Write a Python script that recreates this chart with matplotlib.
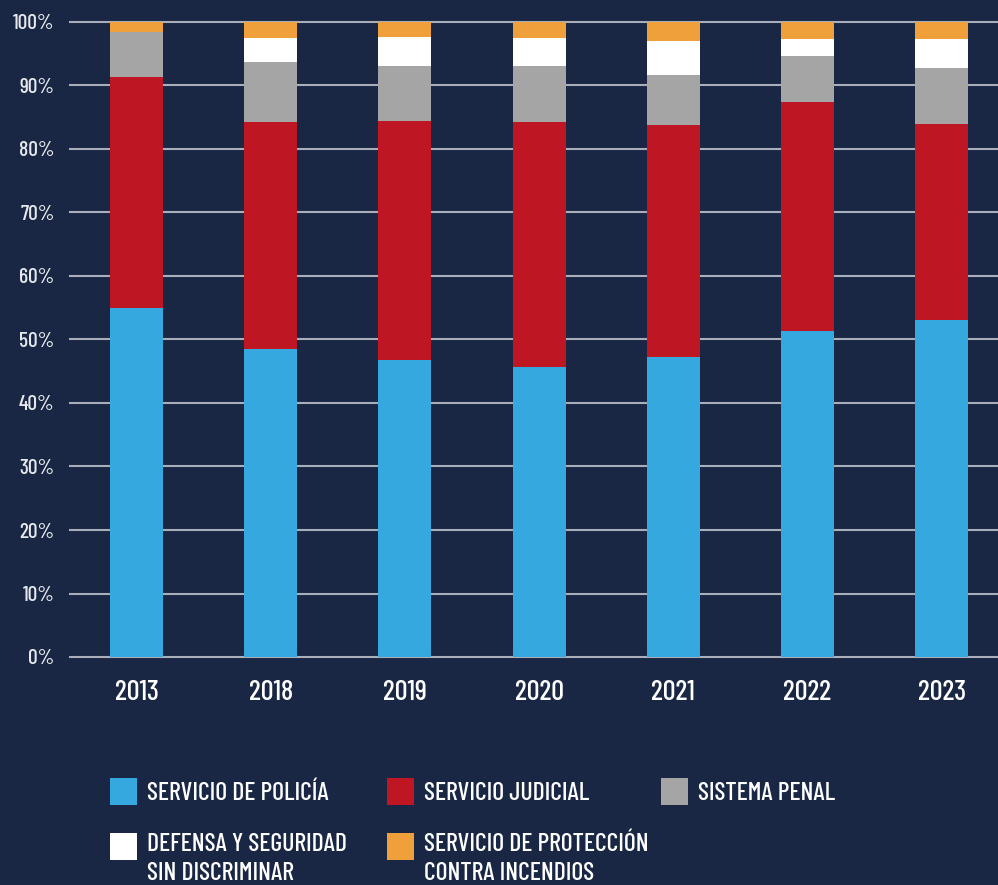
import matplotlib
matplotlib.use("Agg")
import matplotlib.pyplot as plt
from matplotlib.patches import Rectangle
import numpy as np

years = ["2013", "2018", "2019", "2020", "2021", "2022", "2023"]
series_names = ["SERVICIO DE POLICÍA", "SERVICIO JUDICIAL", "SISTEMA PENAL",
                "DEFENSA Y SEGURIDAD\nSIN DISCRIMINAR",
                "SERVICIO DE PROTECCIÓN\nCONTRA INCENDIOS"]
policia   = [54.9, 48.5, 46.7, 45.7, 47.2, 51.4, 53.0]
judicial  = [36.4, 35.7, 37.7, 38.5, 36.6, 36.0, 31.0]
penal     = [7.2, 9.5, 8.7, 8.9, 7.8, 7.2, 8.8]
defensa   = [0.0, 3.8, 4.6, 4.4, 5.4, 2.7, 4.5]
incendios = [1.5, 2.5, 2.3, 2.5, 3.0, 2.7, 2.7]
yticks = [0, 10, 20, 30, 40, 50, 60, 70, 80, 90, 100]

colors = ["#35A8E0", "#BE1622", "#A5A5A5", "#FFFFFF", "#F0A03A"]
bg = "#192744"
font = ["Barlow Condensed", "DejaVu Sans"]
plt.rcParams["font.family"] = font
plt.rcParams["font.weight"] = 500

fig = plt.figure(figsize=(9.98, 8.85), dpi=100, facecolor=bg)
ax = fig.add_axes([70/998, 228/885, 1 - 70/998, (863-228)/885])
ax.set_facecolor(bg)

data = [policia, judicial, penal, defensa, incendios]
x = np.arange(len(years))
bottom = np.zeros(len(years))
for vals, c in zip(data, colors):
    vals = np.array(vals)
    ax.bar(x, vals, bottom=bottom, width=0.395, color=c, zorder=3, linewidth=0)
    bottom += vals

ax.set_xlim(-0.496, 6.42)
ax.set_ylim(0, 100)
ax.set_yticks(yticks)
ax.set_yticklabels([f"{t}%" for t in yticks], fontsize=15.4, color="#E6E8EC")
ax.set_xticks(x)
ax.set_xticklabels(years, fontsize=20.5, color="#FFFFFF")
ax.tick_params(axis="both", length=0)
ax.tick_params(axis="y", pad=11)
ax.tick_params(axis="x", pad=16.5)
for s in ax.spines.values():
    s.set_visible(False)
for t in yticks:
    ax.axhline(t, color="#A9AEB8", linewidth=1.5, zorder=1, clip_on=False)

# legend drawn manually
W, H = 998, 885
entries = [
    (110, 778, 147, 800),
    (387, 778, 424, 800),
    (661, 778, 698, 800),
    (110, 833, 147, 851),
    (387, 833, 424, 851),
]
for (sx, sy, tx, base), name, c in zip(entries, series_names, colors):
    fig.patches.append(Rectangle((sx/W, 1 - (sy+27)/H), 27/W, 27/H,
                                 transform=fig.transFigure, facecolor=c,
                                 edgecolor="none"))
    for i, line in enumerate(name.split("\n")):
        fig.text(tx/W, 1 - (base + 29*i)/H, line, fontsize=18.5, color="white",
                 ha="left", va="baseline")

fig.savefig("out.png", dpi=100, facecolor=bg)
